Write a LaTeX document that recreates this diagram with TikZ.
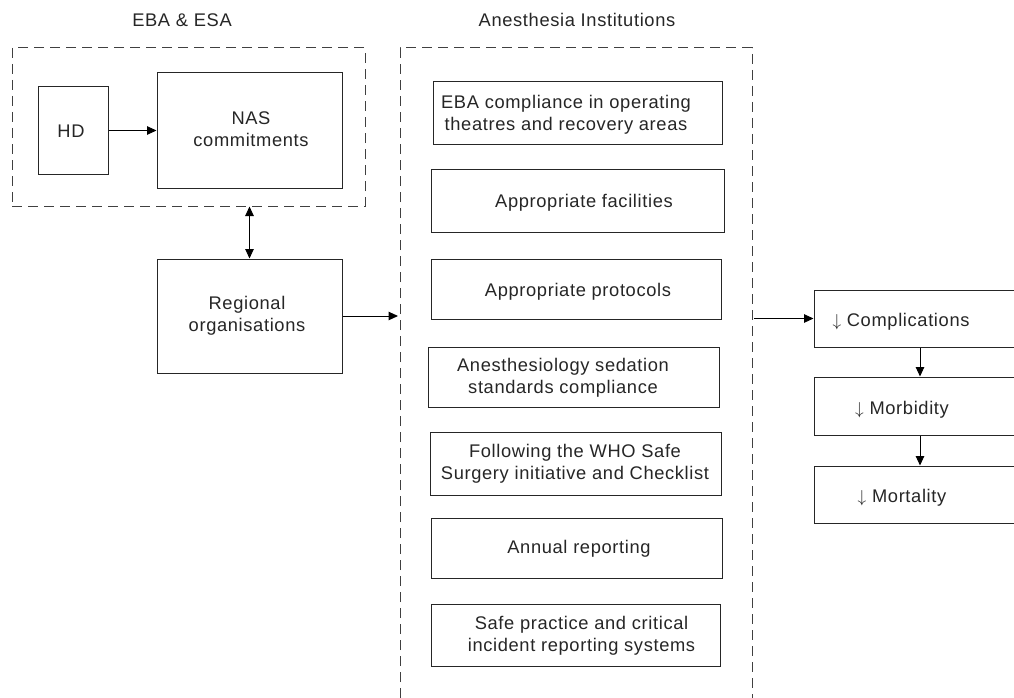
\documentclass[tikz,border=0pt]{standalone}
\usepackage{fontspec}
\setmainfont{Liberation Sans}[LetterSpace=3.5]
\usetikzlibrary{arrows.meta,calc}
\newcommand\dgfont{\fontsize{18.3}{21.7}\selectfont}
\begin{document}
\begin{tikzpicture}[x=1pt,y=-1pt,
  box/.style={draw=black!85, line width=1pt, rectangle, inner sep=0pt},
  txt/.style={font=\dgfont, align=center, inner sep=0pt, text=black!85},
  dbox/.style={draw=black!75, line width=1pt, dash pattern=on 10pt off 6pt},
  arr/.style={-{Triangle[length=9.5pt,width=8.5pt]}, line width=1pt, draw=black},
  darr/.style={{Triangle[length=9.5pt,width=8.5pt]}-{Triangle[length=9.5pt,width=8.5pt]}, line width=1pt, draw=black}]
\clip (0,0) rectangle (1014,698);
\fill[white] (0,0) rectangle (1014,698);

% titles
\node[txt] (t1) at (182,20) {EBA \& ESA};
\node[txt] (t2) at (577,20) {Anesthesia Institutions};

% left group
\node[dbox, minimum width=353pt, minimum height=158pt] (eba) at (188.5,127) {};
\node[box, minimum width=70pt, minimum height=87pt] (hd) at (73,130.5) {};
\node[txt] (hdt) at (71,131) {HD};
\node[box, minimum width=185pt, minimum height=115pt] (nas) at (249.5,130.5) {};
\node[txt] (nast) at (251,129) {NAS\\commitments};
\node[box, minimum width=185pt, minimum height=114pt] (reg) at (249.5,316) {};
\node[txt] (regt) at (247,316) {Regional\\organisations};

% middle group
\draw[dbox] (400,698) -- (400,48) -- (752,48) -- (752,698);
\coordinate (inL) at (398,316);
\coordinate (inR) at (754,318.5);

\node[box, minimum width=289pt, minimum height=62pt] (b1) at (577.5,113) {};
\node[txt] (b1t) at (566,114.5) {EBA compliance in operating\\theatres and recovery areas};
\node[box, minimum width=293pt, minimum height=63pt] (b2) at (577.5,200.5) {};
\node[txt] (b2t) at (584,203) {Appropriate facilities};
\node[box, minimum width=290pt, minimum height=60pt] (b3) at (576,289) {};
\node[txt] (b3t) at (578,292) {Appropriate protocols};
\node[box, minimum width=291pt, minimum height=60pt] (b4) at (573.5,377) {};
\node[txt] (b4t) at (563,377.5) {Anesthesiology sedation\\standards compliance};
\node[box, minimum width=291pt, minimum height=63pt] (b5) at (575.5,463.5) {};
\node[txt] (b5t) at (575,464) {Following the WHO Safe\\Surgery initiative and Checklist};
\node[box, minimum width=291pt, minimum height=60pt] (b6) at (576.5,548) {};
\node[txt] (b6t) at (579,549) {Annual reporting};
\node[box, minimum width=289pt, minimum height=62pt] (b7) at (575.5,635) {};
\node[txt] (b7t) at (581.5,635.5) {Safe practice and critical\\incident reporting systems};

% right group
\node[box, minimum width=212pt, minimum height=57pt] (comp) at (920,318.5) {};
\node[txt] (compt) at (901,322) {$\downarrow$ Complications};
\node[box, minimum width=212pt, minimum height=58pt] (morb) at (920,406) {};
\node[txt] (morbt) at (902,410) {$\downarrow$ Morbidity};
\node[box, minimum width=212pt, minimum height=57pt] (mort) at (920,494.5) {};
\node[txt] (mortt) at (902,498) {$\downarrow$ Mortality};

% connectors
\draw[arr] (hd.east) -- (nas.west);
\draw[darr] (reg.north |- eba.south) -- (reg.north);
\draw[arr] (reg.east) -- (inL);
\draw[arr] (inR) -- (comp.west);
\draw[arr] (comp.south) -- (morb.north);
\draw[arr] (morb.south) -- (mort.north);
\end{tikzpicture}
\end{document}
